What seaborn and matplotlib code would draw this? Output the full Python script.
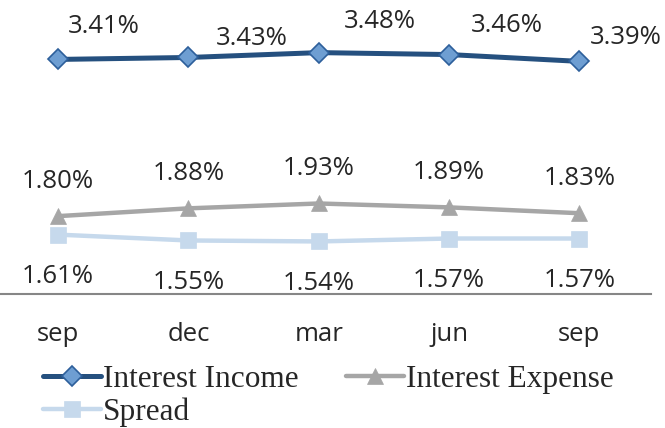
import numpy as np
import pandas as pd
import seaborn as sns
import matplotlib.pyplot as plt

# dados
periods = ["sep", "dec", "mar", "jun", "sep"]
interest_income = [3.41, 3.43, 3.48, 3.46, 3.39]
interest_expense = [1.80, 1.88, 1.93, 1.89, 1.83]
spread = [1.61, 1.55, 1.54, 1.57, 1.57]

# deslocamento (pixels) dos rótulos da linha de receita
income_label_offsets = [(46, 33), (63, 19), (61, 31), (58, 29), (46, 24)]


def main():
    sns.set_theme(style="white")
    plt.rcParams["font.family"] = ["Open Sans", "DejaVu Sans"]
    text_color = "#262626"

    x = np.arange(len(periods))
    df = pd.DataFrame({
        "pos": x,
        "Interest Income": interest_income,
        "Interest Expense": interest_expense,
        "Spread": spread,
    })

    fig = plt.figure(figsize=(6.65, 4.28), dpi=100)
    ax = fig.add_axes([-7 / 665, 134 / 428, 658 / 665, 292 / 428])

    sns.lineplot(data=df, x="pos", y="Interest Income", ax=ax, color="#25507F",
                 linewidth=3.6, marker="D", markersize=10,
                 markerfacecolor="#6E9ED2", markeredgecolor="#2D5F9B",
                 markeredgewidth=1.2, label="Interest Income")
    sns.lineplot(data=df, x="pos", y="Interest Expense", ax=ax, color="#A6A6A6",
                 linewidth=3.2, marker="^", markersize=12,
                 markerfacecolor="#A6A6A6", markeredgecolor="#A6A6A6",
                 markeredgewidth=0.5, label="Interest Expense")
    sns.lineplot(data=df, x="pos", y="Spread", ax=ax, color="#C6D9EC",
                 linewidth=3.2, marker="s", markersize=11.5,
                 markerfacecolor="#C6D9EC", markeredgecolor="#C6D9EC",
                 markeredgewidth=0.5, label="Spread")

    # rótulos de dados
    label_size = 18.5
    for xi, v, (dx, dy) in zip(x, interest_income, income_label_offsets):
        ax.annotate(f"{v:.2f}%", (xi, v), xytext=(dx, dy), textcoords="offset pixels",
                    ha="center", va="center", fontsize=label_size, color=text_color)
    for xi, v in zip(x, interest_expense):
        ax.annotate(f"{v:.2f}%", (xi, v), xytext=(0, 35), textcoords="offset pixels",
                    ha="center", va="center", fontsize=label_size, color=text_color)
    for xi, v in zip(x, spread):
        ax.annotate(f"{v:.2f}%", (xi, v), xytext=(0, -42), textcoords="offset pixels",
                    ha="center", va="center", fontsize=label_size, color=text_color)

    ax.set_xlim(-0.5, 4.55)
    ax.set_ylim(1.0, 4.0)
    ax.set_xticks(x)
    ax.set_xticklabels(periods, fontsize=label_size, color=text_color)
    ax.set_yticks([])
    ax.tick_params(axis="x", length=0, pad=20)
    ax.set_xlabel("")
    ax.set_ylabel("")
    sns.despine(ax=ax, left=True)
    ax.spines["bottom"].set_color("#868686")
    ax.spines["bottom"].set_linewidth(1.5)
    ax.patch.set_alpha(0)

    # legenda: receita e despesa na primeira linha, spread na segunda
    handles, labels = ax.get_legend_handles_labels()
    order = [0, 2, 1]
    ax.legend([handles[i] for i in order], [labels[i] for i in order],
              ncol=2, loc="upper left", bbox_to_anchor=(43 / 665, 1 - 365 / 428),
              bbox_transform=fig.transFigure, frameon=False,
              prop={"family": ["Liberation Serif"], "size": 22.5},
              labelcolor=text_color, handlelength=1.85, handletextpad=0.08,
              columnspacing=1.5, labelspacing=0.12, borderpad=0, borderaxespad=0)

    fig.savefig("out.png", dpi=100)


if __name__ == "__main__":
    main()
